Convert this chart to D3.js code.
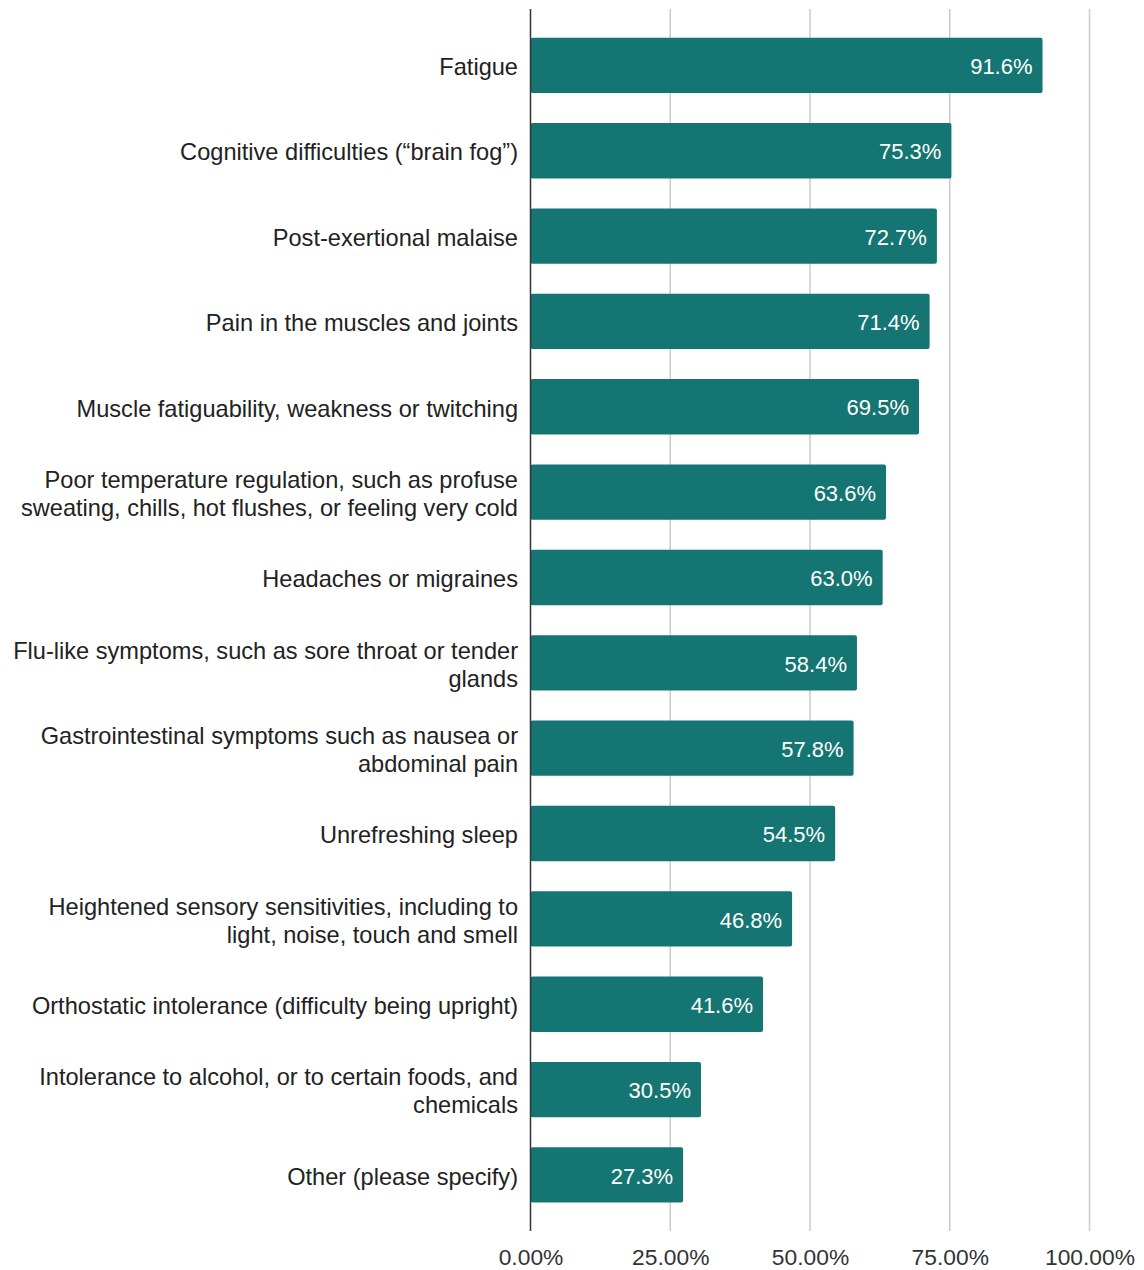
<!DOCTYPE html>
<html><head><meta charset="utf-8">
<script src="https://cdn.jsdelivr.net/npm/d3@7"></script>
<style>body{margin:0;background:#fff}svg{display:block}</style>
</head><body>
<svg id="c" width="1144" height="1270"></svg>
<script>
const categories = [
  "Fatigue",
  "Cognitive difficulties (“brain fog”)",
  "Post-exertional malaise",
  "Pain in the muscles and joints",
  "Muscle fatiguability, weakness or twitching",
  "Poor temperature regulation, such as profuse\nsweating, chills, hot flushes, or feeling very cold",
  "Headaches or migraines",
  "Flu-like symptoms, such as sore throat or tender\nglands",
  "Gastrointestinal symptoms such as nausea or\nabdominal pain",
  "Unrefreshing sleep",
  "Heightened sensory sensitivities, including to\nlight, noise, touch and smell",
  "Orthostatic intolerance (difficulty being upright)",
  "Intolerance to alcohol, or to certain foods, and\nchemicals",
  "Other (please specify)"
];
const values = [91.6, 75.3, 72.7, 71.4, 69.5, 63.6, 63.0, 58.4, 57.8, 54.5, 46.8, 41.6, 30.5, 27.3];
const tickValues = [0, 25, 50, 75, 100];
const tickLabels = ["0.00%", "25.00%", "50.00%", "75.00%", "100.00%"];

const svg = d3.select("#c");
const font = "'Liberation Sans', Arial, sans-serif";
const x = d3.scaleLinear().domain([0, 100]).range([530.5, 1089.5]);
const y = d3.scaleBand().domain(categories).range([22.7, 1217.6]).paddingInner(0.352).paddingOuter(0.176);

// gridlines
svg.append("g").selectAll("line").data(tickValues.slice(1)).join("line")
  .attr("x1", d => x(d)).attr("x2", d => x(d))
  .attr("y1", 9).attr("y2", 1231)
  .attr("stroke", "#cccccc").attr("stroke-width", 1.5);

// bars
svg.append("g").selectAll("rect").data(values).join("rect")
  .attr("x", x(0)).attr("y", (d, i) => y(categories[i]))
  .attr("width", d => x(d) - x(0)).attr("height", y.bandwidth())
  .attr("rx", 2).attr("fill", "#147572");

// value labels
svg.append("g").selectAll("text").data(values).join("text")
  .attr("x", d => x(d) - 10).attr("y", (d, i) => y(categories[i]) + y.bandwidth() / 2 + 1)
  .attr("dy", "0.35em").attr("text-anchor", "end")
  .attr("font-family", font).attr("font-size", 22).attr("fill", "#ffffff")
  .text(d => d.toFixed(1) + "%");

// axis line
svg.append("line").attr("x1", x(0)).attr("x2", x(0)).attr("y1", 9).attr("y2", 1231)
  .attr("stroke", "#333").attr("stroke-width", 1.5);

// category labels
const cat = svg.append("g").selectAll("text").data(categories).join("text")
  .attr("text-anchor", "end").attr("font-family", font).attr("font-size", 23.6).attr("fill", "#222");
cat.each(function(d) {
  const lines = d.split("\n");
  const cy = y(d) + y.bandwidth() / 2 + 1.5;
  const lh = 28;
  const t = d3.select(this);
  lines.forEach((ln, j) => {
    t.append("tspan").attr("x", 518)
      .attr("y", cy + (j - (lines.length - 1) / 2) * lh)
      .attr("dy", "0.35em").text(ln);
  });
});

// x tick labels
const xAxis = d3.axisBottom(x).tickValues(tickValues).tickSize(0).tickPadding(0)
  .tickFormat((d, i) => tickLabels[i]);
const ax = svg.append("g").attr("transform", "translate(0,1249)").call(xAxis);
ax.select(".domain").remove();
ax.selectAll("text").attr("font-family", font).attr("font-size", 22.8).attr("fill", "#333");
</script>
</body></html>
